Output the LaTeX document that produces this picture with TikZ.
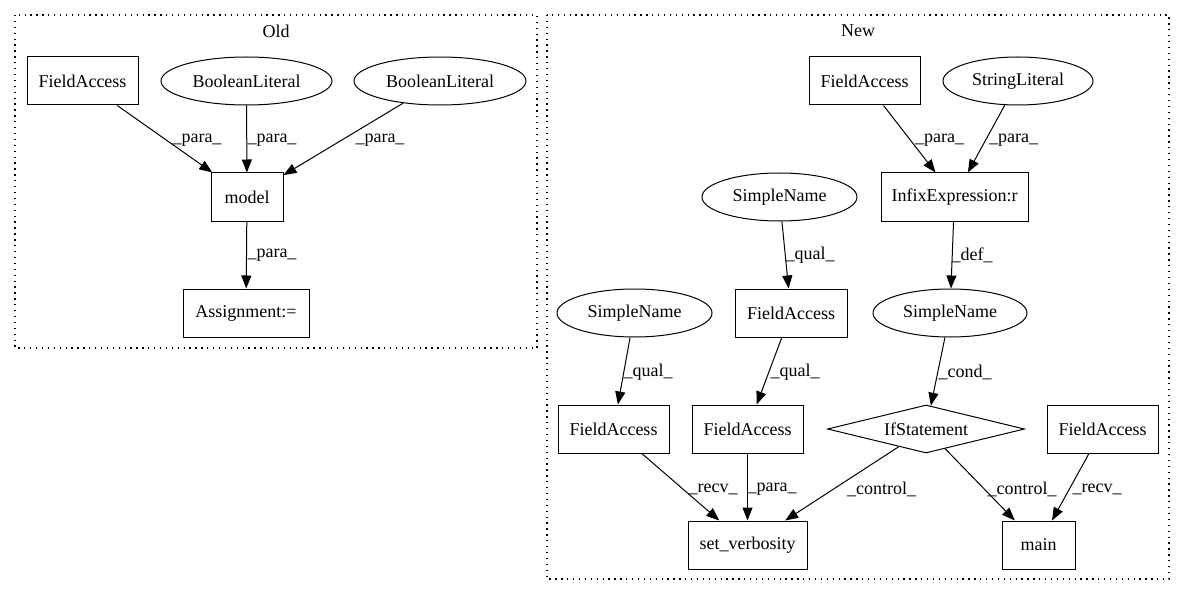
\documentclass[tikz,border=0pt]{standalone}
\usepackage{fontspec}
\setmainfont{Liberation Serif}
\usetikzlibrary{shapes.geometric,arrows.meta}
\tikzset{
  every node/.style={font=\fontsize{18}{20}\selectfont, inner sep=0pt},
  boxnode/.style={draw, line width=1pt, rectangle, minimum height=48pt, minimum width=#1},
  ellnode/.style={draw, line width=1pt, ellipse, minimum height=48pt, minimum width=#1},
  dianode/.style={draw, line width=1pt, diamond, aspect=4, minimum height=48pt, minimum width=#1},
  edge/.style={draw, line width=1pt, -{Triangle[length=13pt,width=10pt]}},
  elabel/.style={font=\fontsize{18}{20}\selectfont},
  cluster/.style={draw, line width=1.1pt, dash pattern=on 1.3pt off 4.6pt},
}
\begin{document}
\begin{tikzpicture}[x=1pt,y=-1pt]
\useasboundingbox (0,0) rectangle (1185,596);
% clusters
\draw[cluster] (15,15) rectangle (537,348);
\node (oldlbl) at (276,31) {Old};
\draw[cluster] (547,15) rectangle (1169,579);
\node (newlbl) at (858,31) {New};

% Old nodes
\node[boxnode=111pt] (ofa) at (82.5,81) {FieldAccess};
\node[ellnode=171pt] (obl1) at (246.5,81) {BooleanLiteral};
\node[ellnode=172pt] (obl2) at (440,81) {BooleanLiteral};
\node[boxnode=72pt] (model) at (247,197) {model};
\node[boxnode=126pt] (assign) at (246,313) {Assignment:=};

\draw[edge] (ofa) -- (model) node[elabel, at={(197,140)}] {\_para\_};
\draw[edge] (obl1) -- (model) node[elabel, at={(272,140)}] {\_para\_};
\draw[edge] (obl2) -- (model) node[elabel, at={(380,140)}] {\_para\_};
\draw[edge] (model) -- (assign) node[elabel, at={(272,255)}] {\_para\_};

% New nodes
\node[boxnode=111pt] (nfa1) at (864.5,81) {FieldAccess};
\node[ellnode=150pt] (nsl) at (1018,81) {StringLiteral};
\node[boxnode=147pt] (infix) at (954.5,197) {InfixExpression:r};
\node[ellnode=155pt] (nsn1) at (779.5,197) {SimpleName};
\node[boxnode=112pt] (nfa2) at (791,313) {FieldAccess};
\node[ellnode=155pt] (nsn2) at (634.5,313) {SimpleName};
\node[ellnode=154pt] (nsn3) at (950,313) {SimpleName};
\node[boxnode=111pt] (nfa3) at (613.5,429) {FieldAccess};
\node[boxnode=111pt] (nfa4) at (747.5,429) {FieldAccess};
\node[dianode=197pt] (ifst) at (926,429) {IfStatement};
\node[boxnode=111pt] (nfa5) at (1102.5,429) {FieldAccess};
\node[boxnode=119pt] (setv) at (747.5,545) {set\_verbosity};
\node[boxnode=73pt] (main) at (1038.5,545) {main};

\draw[edge] (nfa1) -- (infix) node[elabel, at={(939.5,140)}] {\_para\_};
\draw[edge] (nsl) -- (infix) node[elabel, at={(1013.5,140)}] {\_para\_};
\draw[edge] (nsn1) -- (nfa2) node[elabel, at={(810,255)}] {\_qual\_};
\draw[edge] (infix) -- (nsn3) node[elabel, at={(972,255)}] {\_def\_};
\draw[edge] (nsn2) -- (nfa3) node[elabel, at={(648,372)}] {\_qual\_};
\draw[edge] (nfa2) -- (nfa4) node[elabel, at={(795,372)}] {\_qual\_};
\draw[edge] (nsn3) -- (ifst) node[elabel, at={(965,372)}] {\_cond\_};
\draw[edge] (nfa3) -- (setv) node[elabel, at={(713,489)}] {\_recv\_};
\draw[edge] (nfa4) -- (setv) node[elabel, at={(772,489)}] {\_para\_};
\draw[edge] (ifst) -- (setv) node[elabel, at={(881.5,489)}] {\_control\_};
\draw[edge] (ifst) -- (main) node[elabel, at={(1022,489)}] {\_control\_};
\draw[edge] (nfa5) -- (main) node[elabel, at={(1097,489)}] {\_recv\_};
\end{tikzpicture}
\end{document}
